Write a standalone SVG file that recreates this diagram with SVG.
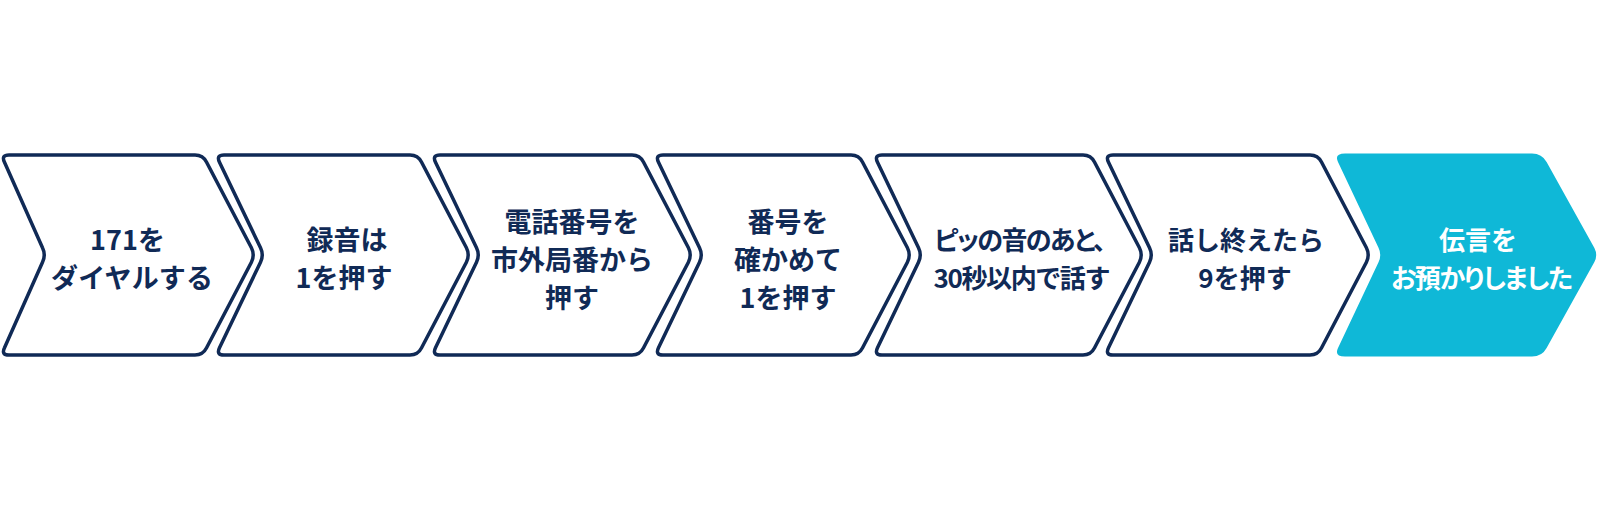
<svg xmlns="http://www.w3.org/2000/svg" width="1600" height="509" viewBox="0 0 1600 509">
<style>
.box{fill:#ffffff;stroke:#102a56;stroke-width:3.5;stroke-linejoin:round}
.done{fill:#0fb8d7;stroke:none}
.t{font-family:"Noto Sans CJK JP","Noto Sans",sans-serif;font-weight:700;font-size:27px;fill:#102a56;text-anchor:middle}
.s{font-size:26px}
.p{font-feature-settings:"palt"}
.w{fill:#ffffff}
</style>
<rect width="1600" height="509" fill="#ffffff"/>
<g id="connectors"/>
<g id="step1">
<path class="box" d="M9,155 H195 Q203,155 206.6,162.2 L251.4,247.8 Q255,255 251.4,262.2 L206.6,347.8 Q203,355 195,355 H9 Q1,355 4.5,347.8 L42.5,262.2 Q46,255 42.5,247.8 L4.5,162.2 Q1,155 9,155 Z"/>
<text class="t" x="127.5" y="250">171を</text>
<text class="t" x="132" y="288" textLength="162" lengthAdjust="spacing">ダイヤルする</text>
</g>
<g id="step2">
<path class="box" d="M224,155 H410 Q418,155 421.6,162.2 L466.4,247.8 Q470,255 466.4,262.2 L421.6,347.8 Q418,355 410,355 H224 Q216,355 219.5,347.8 L260.5,262.2 Q264,255 260.5,247.8 L219.5,162.2 Q216,155 224,155 Z"/>
<text class="t" x="347" y="250">録音は</text>
<text class="t" x="344" y="288">1を押す</text>
</g>
<g id="step3">
<path class="box" d="M440,155 H632 Q640,155 643.6,162.2 L688.4,247.8 Q692,255 688.4,262.2 L643.6,347.8 Q640,355 632,355 H440 Q432,355 435.5,347.8 L476.5,262.2 Q480,255 476.5,247.8 L435.5,162.2 Q432,155 440,155 Z"/>
<text class="t" x="572" y="232">電話番号を</text>
<text class="t" x="572" y="270">市外局番から</text>
<text class="t" x="572" y="308">押す</text>
</g>
<g id="step4">
<path class="box" d="M663,155 H851 Q859,155 862.6,162.2 L907.4,247.8 Q911,255 907.4,262.2 L862.6,347.8 Q859,355 851,355 H663 Q655,355 658.5,347.8 L699.5,262.2 Q703,255 699.5,247.8 L658.5,162.2 Q655,155 663,155 Z"/>
<text class="t" x="788" y="232">番号を</text>
<text class="t" x="788" y="270">確かめて</text>
<text class="t" x="788" y="308">1を押す</text>
</g>
<g id="step5">
<path class="box" d="M882,155 H1083 Q1091,155 1094.6,162.2 L1139.4,247.8 Q1143,255 1139.4,262.2 L1094.6,347.8 Q1091,355 1083,355 H882 Q874,355 877.5,347.8 L918.5,262.2 Q922,255 918.5,247.8 L877.5,162.2 Q874,155 882,155 Z"/>
<text class="t s p" x="1020" y="250" textLength="172" lengthAdjust="spacing">ピッの音のあと、</text>
<text class="t s" x="1022" y="288" textLength="177" lengthAdjust="spacing">30秒以内で話す</text>
</g>
<g id="step6">
<path class="box" d="M1113,155 H1310 Q1318,155 1321.6,162.2 L1366.4,247.8 Q1370,255 1366.4,262.2 L1321.6,347.8 Q1318,355 1310,355 H1113 Q1105,355 1108.5,347.8 L1149.5,262.2 Q1153,255 1149.5,247.8 L1108.5,162.2 Q1105,155 1113,155 Z"/>
<text class="t s" x="1246" y="250">話し終えたら</text>
<text class="t s" x="1245" y="288">9を押す</text>
</g>
<g id="step7">
<path class="done" d="M1345,153.5 H1532 Q1542,153.5 1546.6,162 L1594.4,248 Q1598,255 1594.4,262 L1546.6,348 Q1542,356.5 1532,356.5 H1345 Q1334,356.5 1338,348 L1378.5,262.2 Q1382,255 1378.5,247.8 L1338,162 Q1334,153.5 1345,153.5 Z"/>
<text class="t s w" x="1478" y="250">伝言を</text>
<text class="t s w p" x="1482" y="288" textLength="182" lengthAdjust="spacing">お預かりしました</text>
</g>
</svg>
